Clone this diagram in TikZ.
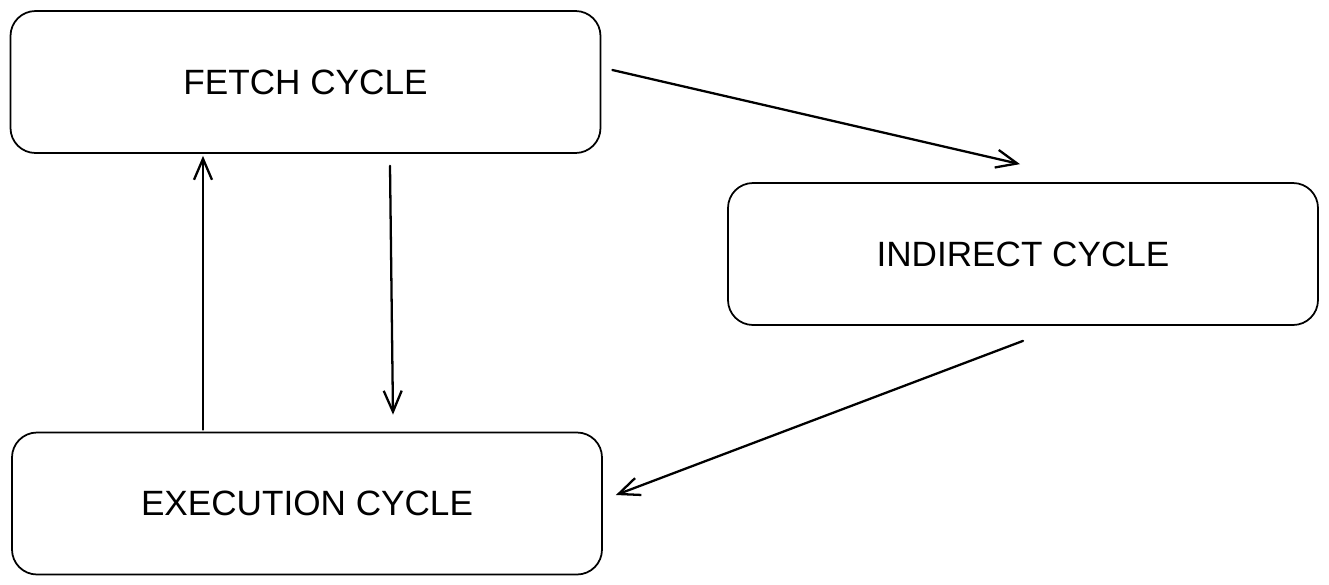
\documentclass[tikz,border=0pt]{standalone}
\usepackage{fontspec}
\setmainfont{Liberation Sans}
\usetikzlibrary{arrows.meta}

\begin{document}
\begin{tikzpicture}[
        cyclebox/.style={draw, line width=1pt, rounded corners=0.5cm,
            minimum width=11.8cm, minimum height=2.84cm,
            font=\fontsize{20}{24}\selectfont},
        >={Straight Barb[length=0.42cm,width=0.36cm]},
        every path/.style={line width=1.3pt, line cap=round}
    ]
            \useasboundingbox (0,0) rectangle (26.58,-11.68);
            \node[cyclebox] (FC) at (6.11,-1.64) {FETCH CYCLE};
            \node[cyclebox] (IC) at (20.46,-5.08) {INDIRECT CYCLE};
            \node[cyclebox] (EC) at (6.14,-10.07) {EXECUTION CYCLE};
            \draw[->] ([xshift=0.22cm,yshift=0.24cm]FC.east) to ([xshift=-0.06cm,yshift=0.36cm]IC.north);
            \draw[->] ([yshift=-0.3cm]IC.south) to ([xshift=0.26cm,yshift=0.17cm]EC.east);
            \draw[->] ([xshift=-2.08cm,yshift=0.04cm]EC.north) to ([xshift=-2.05cm,yshift=-0.04cm]FC.south);
            \draw[->] ([xshift=1.69cm,yshift=-0.24cm]FC.south) to ([xshift=1.72cm,yshift=0.34cm]EC.north);
        \end{tikzpicture}
\end{document}
